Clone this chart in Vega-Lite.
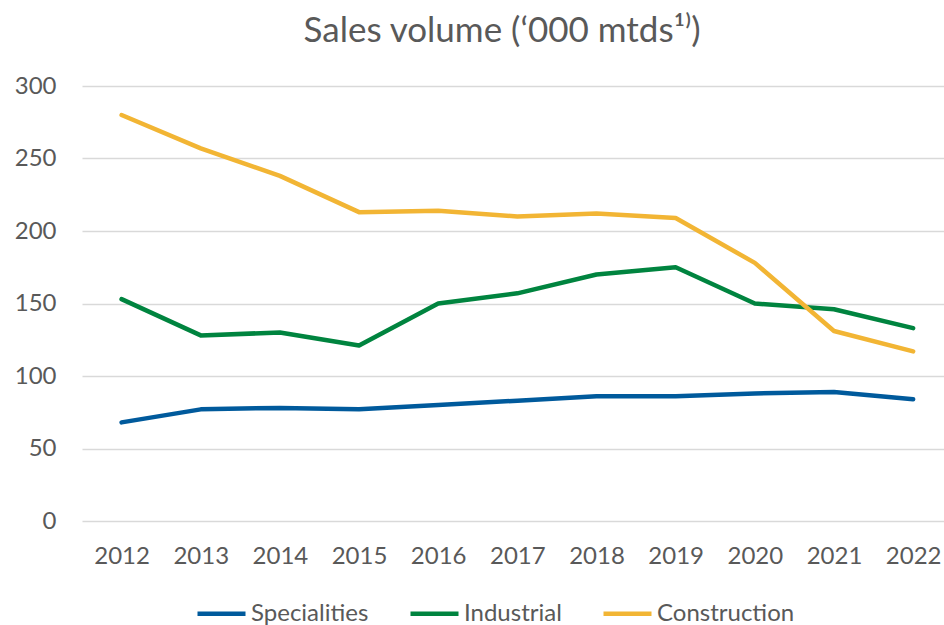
{
  "$schema": "https://vega.github.io/schema/vega-lite/v6.json",
  "autosize": "none",
  "padding": {"left": 82, "top": 86, "right": 0, "bottom": 104},
  "width": 862,
  "height": 435,
  "background": "white",
  "title": {
    "text": "Sales volume (‘000 mtds¹⁾)",
    "anchor": "middle",
    "frame": "group",
    "dx": -11,
    "offset": 25,
    "font": "Lato",
    "fontSize": 35,
    "fontWeight": "normal",
    "color": "#595959"
  },
  "data": {
    "values": [
      {"year": 2012, "series": "Specialities", "value": 68},
      {"year": 2013, "series": "Specialities", "value": 77},
      {"year": 2014, "series": "Specialities", "value": 78},
      {"year": 2015, "series": "Specialities", "value": 77},
      {"year": 2016, "series": "Specialities", "value": 80},
      {"year": 2017, "series": "Specialities", "value": 83},
      {"year": 2018, "series": "Specialities", "value": 86},
      {"year": 2019, "series": "Specialities", "value": 86},
      {"year": 2020, "series": "Specialities", "value": 88},
      {"year": 2021, "series": "Specialities", "value": 89},
      {"year": 2022, "series": "Specialities", "value": 84},
      {"year": 2012, "series": "Industrial", "value": 153},
      {"year": 2013, "series": "Industrial", "value": 128},
      {"year": 2014, "series": "Industrial", "value": 130},
      {"year": 2015, "series": "Industrial", "value": 121},
      {"year": 2016, "series": "Industrial", "value": 150},
      {"year": 2017, "series": "Industrial", "value": 157},
      {"year": 2018, "series": "Industrial", "value": 170},
      {"year": 2019, "series": "Industrial", "value": 175},
      {"year": 2020, "series": "Industrial", "value": 150},
      {"year": 2021, "series": "Industrial", "value": 146},
      {"year": 2022, "series": "Industrial", "value": 133},
      {"year": 2012, "series": "Construction", "value": 280},
      {"year": 2013, "series": "Construction", "value": 257},
      {"year": 2014, "series": "Construction", "value": 238},
      {"year": 2015, "series": "Construction", "value": 213},
      {"year": 2016, "series": "Construction", "value": 214},
      {"year": 2017, "series": "Construction", "value": 210},
      {"year": 2018, "series": "Construction", "value": 212},
      {"year": 2019, "series": "Construction", "value": 209},
      {"year": 2020, "series": "Construction", "value": 178},
      {"year": 2021, "series": "Construction", "value": 131},
      {"year": 2022, "series": "Construction", "value": 117}
    ]
  },
  "mark": {"type": "line", "strokeWidth": 4.5, "strokeCap": "round", "strokeJoin": "round"},
  "encoding": {
    "x": {
      "field": "year",
      "type": "quantitative",
      "scale": {"domain": [2011.5, 2022.39], "nice": false, "zero": false},
      "axis": {
        "title": null,
        "values": [2012, 2013, 2014, 2015, 2016, 2017, 2018, 2019, 2020, 2021, 2022],
        "format": "d",
        "labelAngle": 0,
        "ticks": false,
        "domain": false,
        "grid": false,
        "labelPadding": 23,
        "labelFont": "Lato",
        "labelFontSize": 24,
        "labelColor": "#595959"
      }
    },
    "y": {
      "field": "value",
      "type": "quantitative",
      "scale": {"domain": [0, 300], "nice": false},
      "axis": {
        "title": null,
        "values": [0, 50, 100, 150, 200, 250, 300],
        "ticks": false,
        "domain": false,
        "grid": true,
        "gridColor": "#d9d9d9",
        "gridWidth": 1.5,
        "labelPadding": 26,
        "labelFont": "Lato",
        "labelFontSize": 24,
        "labelColor": "#595959"
      }
    },
    "color": {
      "field": "series",
      "type": "nominal",
      "sort": ["Specialities", "Industrial", "Construction"],
      "scale": {
        "domain": ["Specialities", "Industrial", "Construction"],
        "range": ["#005a9c", "#00843f", "#f2b534"]
      },
      "legend": {
        "title": null,
        "orient": "none",
        "legendX": 113,
        "legendY": 501,
        "direction": "horizontal",
        "symbolType": "stroke",
        "symbolSize": 2304,
        "symbolStrokeWidth": 4.5,
        "labelFont": "Lato",
        "labelFontSize": 24,
        "labelColor": "#595959",
        "labelOffset": 3,
        "columnPadding": 32
      }
    }
  },
  "config": {"view": {"stroke": null}}
}
